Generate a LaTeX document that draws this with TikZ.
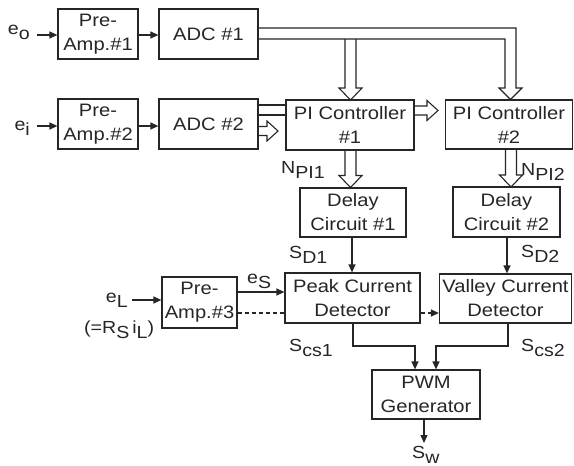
\documentclass[tikz,border=0pt]{standalone}
\usepackage{fontspec}
\setmainfont[FakeStretch=1.12]{Liberation Sans}
\usetikzlibrary{arrows.meta,calc}
\newcommand\lsub[1]{\raisebox{-5.5pt}{#1}}
% hollow arrow, vertical: center x, start y, tip y
\newcommand\hdown[3]{\draw[hol] (#1-5.5,#2) -- (#1-5.5,#3-12) -- (#1-11.5,#3-12) -- (#1,#3) -- (#1+11.5,#3-12) -- (#1+5.5,#3-12) -- (#1+5.5,#2);}
% hollow arrow, horizontal: center y, start x, tip x
\newcommand\hright[3]{\draw[hol] (#2,#1-4.5) -- (#3-11,#1-4.5) -- (#3-11,#1-10) -- (#3,#1) -- (#3-11,#1+10) -- (#3-11,#1+4.5) -- (#2,#1+4.5);}
\begin{document}
\begin{tikzpicture}[x=1pt,y=-1pt,
  blk/.style={draw=black!85, line width=1.2pt, inner sep=0pt, align=center, text=black!85, font=\fontsize{18}{24}\selectfont},
  lbl/.style={inner sep=0pt, text=black!85, font=\fontsize{17.5}{17}\selectfont},
  arr/.style={draw=black!85, line width=1.2pt, -{Triangle[length=8pt,width=7pt]}},
  ln/.style={draw=black!85, line width=1.2pt},
  hol/.style={draw=black!85, line width=1.1pt, line join=miter}
]
\useasboundingbox (0,0) rectangle (574,466);
\fill[white] (0,0) rectangle (574,466);

% blocks
\node[blk, minimum width=80pt, minimum height=50pt] (pa1) at (98,34) {Pre-\\Amp.\#1};
\node[blk, minimum width=99pt, minimum height=50pt] (adc1) at (208.5,34) {ADC \#1};
\node[blk, minimum width=80pt, minimum height=50pt] (pa2) at (98,124) {Pre-\\Amp.\#2};
\node[blk, minimum width=99pt, minimum height=50pt] (adc2) at (208.5,124) {ADC \#2};
\node[blk, minimum width=128pt, minimum height=50pt] (pi1) at (350,125) {PI Controller\\\#1};
\node[blk, minimum width=127pt, minimum height=49pt] (pi2) at (509,124.5) {PI Controller\\\#2};
\node[blk, minimum width=106pt, minimum height=49pt] (d1) at (353,212.5) {Delay\\Circuit \#1};
\node[blk, minimum width=107pt, minimum height=50pt] (d2) at (506.5,212) {Delay\\Circuit \#2};
\node[blk, minimum width=135pt, minimum height=50pt] (peak) at (352.5,298) {Peak Current\\Detector};
\node[blk, minimum width=132pt, minimum height=49pt] (valley) at (505.5,298.5) {Valley Current\\Detector};
\node[blk, minimum width=75pt, minimum height=51pt] (pa3) at (199.5,302.5) {Pre-\\Amp.\#3};
\node[blk, minimum width=108pt, minimum height=49pt] (pwm) at (426,394.5) {PWM\\Generator};

% labels
\node[lbl, anchor=base east] (eo) at (30,34) {e\lsub{o}};
\node[lbl, anchor=base east] (ei) at (30,130) {e\lsub{i}};
\node[lbl, anchor=base east] (eL) at (128,302) {e\lsub{L}};
\node[lbl, anchor=base west] (RsiL) at (84,333) {(=R\lsub{S}\,i\lsub{L})};
\node[lbl, anchor=base west] (es) at (247,283) {e\lsub{S}};
\node[lbl, anchor=base west] (npi1) at (281,173) {N\lsub{PI1}};
\node[lbl, anchor=base west] (npi2) at (521,175) {N\lsub{PI2}};
\node[lbl, anchor=base west] (sd1) at (289,258) {S\lsub{D1}};
\node[lbl, anchor=base west] (sd2) at (521,257) {S\lsub{D2}};
\node[lbl, anchor=base west] (scs1) at (289,351) {S\lsub{cs1}};
\node[lbl, anchor=base west] (scs2) at (521,351) {S\lsub{cs2}};
\node[lbl, anchor=base west] (sw) at (412,458) {S\lsub{w}};

% thin arrows
\coordinate (eoend) at (37,35);
\coordinate (eiend) at (37,126);
\coordinate (eLend) at (132,300);
\draw[arr] (eoend) -- (eoend -| pa1.west);
\draw[arr] (pa1.east |- eoend) -- (adc1.west |- eoend);
\draw[arr] (eiend) -- (eiend -| pa2.west);
\draw[arr] (pa2.east |- eiend) -- (adc2.west |- eiend);
\draw[arr] (eLend) -- (eLend -| pa3.west);
\draw[arr] (pa3.east |- 0,292) -- (peak.west |- 0,292);
\draw[ln, dashed, dash pattern=on 4pt off 3pt] (pa3.east |- 0,313) -- (peak.west |- 0,313);
\draw[arr, dashed, dash pattern=on 4pt off 3pt] (peak.east |- 0,313) -- (valley.west |- 0,313);
\draw[arr] (d1.south -| 352,0) -- (peak.north -| 352,0);
\draw[arr] (d2.south -| 507,0) -- (valley.north -| 507,0);
\draw[arr] (peak.south -| 353,0) -- (353,346) -| (pwm.north -| 415,0);
\draw[arr] (valley.south -| 508,0) -- (508,346) -| (pwm.north -| 436,0);
\coordinate (swend) at (424,443);
\draw[arr] (pwm.south -| swend) -- (swend);

% ADC#1 bus
\draw[hol] (adc1.east |- 0,28) -- (516,28) -- (516,88) -- (522,88) -- (510.5,99.5) -- (499,88) -- (505,88) -- (505,39) -- (adc1.east |- 0,39);
\draw[hol] (345,39) -- (345,88) -- (339,88) -- (350.5,100) -- (362,88) -- (356,88) -- (356,39);
% ADC#2 bus
\draw[hol] (adc2.east |- 0,105) -- (pi1.west |- 0,105);
\draw[hol] (adc2.east |- 0,115) -- (pi1.west |- 0,115);
\hright{131}{258}{278}
% PI1 -> PI2
\hright{110.5}{414}{438}
% PI -> Delay
\hdown{350.5}{150}{187.5}
\hdown{511}{149}{187}
\end{tikzpicture}
\end{document}
